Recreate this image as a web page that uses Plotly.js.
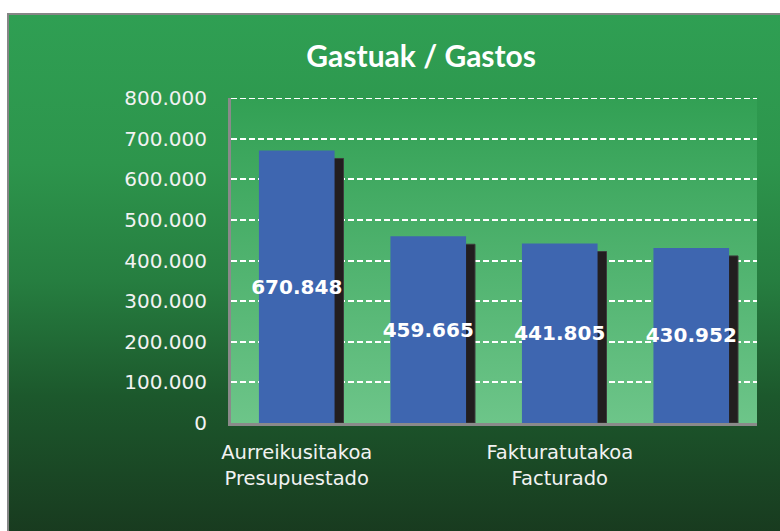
<!DOCTYPE html>
<html>
<head>
<meta charset="utf-8">
<script src="https://cdn.plot.ly/plotly-3.0.1.min.js"></script>
<style>
html,body{margin:0;padding:0;background:#ffffff;}
#wrap{position:relative;width:780px;height:531px;overflow:hidden;}
#box{position:absolute;left:7px;top:13px;width:790px;height:530px;
  border-left:2px solid #868686;border-top:2px solid #868686;
  background:linear-gradient(to bottom,#2f9f53 0%,#2d954c 28%,#267e40 50%,#1c582c 72%,#18381e 100%);}
#plotbg{position:absolute;left:231px;top:98px;width:526px;height:325px;
  background:linear-gradient(to bottom,#32a054 0%,#6dc589 100%);}
#chart{position:absolute;left:0;top:0;width:780px;height:531px;}
</style>
</head>
<body>
<div id="wrap">
  <div id="box"></div>
  <div id="plotbg"></div>
  <div id="chart"></div>
</div>
<script>
// ---- data ----
const categories = ["Aurreikusitakoa<br>Presupuestado", "", "Fakturatutakoa<br>Facturado", ""];
const values = [670848, 459665, 441805, 430952];
const titleText = "Gastuak / Gastos";
const yTickVals = [0, 100000, 200000, 300000, 400000, 500000, 600000, 700000, 800000];

// ---- style ----
const shadowDrop = 19700;   // vertical drop of the bar shadow (value units)
const barWidth = 0.575;
const shadowShift = 0.068;
const gridDash = "6px,3px";

const xIdx = categories.map((c, i) => i);
const labelIdx = xIdx.filter(i => categories[i] !== "");
const labelText = labelIdx.map(i => categories[i]);
const yMax = yTickVals[yTickVals.length - 1];

const shadow = {
  type: "bar",
  x: xIdx,
  y: values.map(v => v - shadowDrop),
  width: barWidth,
  offset: -barWidth / 2 + shadowShift,
  marker: {color: "#221e1f", line: {color: "#3c3c3c", width: 1}},
  hoverinfo: "skip",
  showlegend: false
};

const bars = {
  type: "bar",
  x: xIdx,
  y: values,
  width: barWidth,
  offset: -barWidth / 2,
  marker: {color: "#3e66b0", line: {width: 0}},
  text: values,
  texttemplate: "%{y:,}",
  textposition: "inside",
  insidetextanchor: "middle",
  textangle: 0,
  constraintext: "none",
  cliponaxis: false,
  textfont: {family: "DejaVu Sans", size: 20, color: "#ffffff", weight: "bold"},
  hoverinfo: "skip",
  showlegend: false
};

const layout = {
  width: 780,
  height: 531,
  margin: {l: 231, r: 23, t: 98, b: 108, pad: 0},
  paper_bgcolor: "rgba(0,0,0,0)",
  plot_bgcolor: "rgba(0,0,0,0)",
  separators: ",.",
  barmode: "overlay",
  title: {
    text: titleText,
    font: {family: "Lato", size: 30, color: "#ffffff", weight: "bold"},
    xref: "container", x: 0.54, xanchor: "center",
    yref: "container", y: 0.893, yanchor: "middle"
  },
  xaxis: {
    range: [-0.5, categories.length - 0.5],
    tickvals: labelIdx,
    ticktext: labelText,
    ticks: "outside", ticklen: 10, tickcolor: "rgba(0,0,0,0)",
    tickfont: {family: "DejaVu Sans", size: 19.5, color: "#f2f2f2"},
    showgrid: false, zeroline: false,
    showline: true, linecolor: "#8a8a8a", linewidth: 3,
    fixedrange: true
  },
  yaxis: {
    range: [0, yMax],
    tickvals: yTickVals,
    tickformat: ",",
    ticks: "outside", ticklen: 17, tickcolor: "rgba(0,0,0,0)",
    tickfont: {family: "DejaVu Sans", size: 20, color: "#f2f2f2"},
    showgrid: true, gridcolor: "#ffffff", gridwidth: 2, griddash: gridDash,
    zeroline: false,
    showline: true, linecolor: "#8a8a8a", linewidth: 3,
    fixedrange: true
  },
  shapes: [{
    type: "line", layer: "below",
    xref: "paper", x0: 0, x1: 1,
    yref: "y", y0: yMax, y1: yMax,
    line: {color: "#ffffff", width: 2, dash: gridDash}
  }],
  font: {family: "DejaVu Sans", color: "#ffffff"}
};

Plotly.newPlot("chart", [shadow, bars], layout, {staticPlot: true, displayModeBar: false});
</script>
</body>
</html>
